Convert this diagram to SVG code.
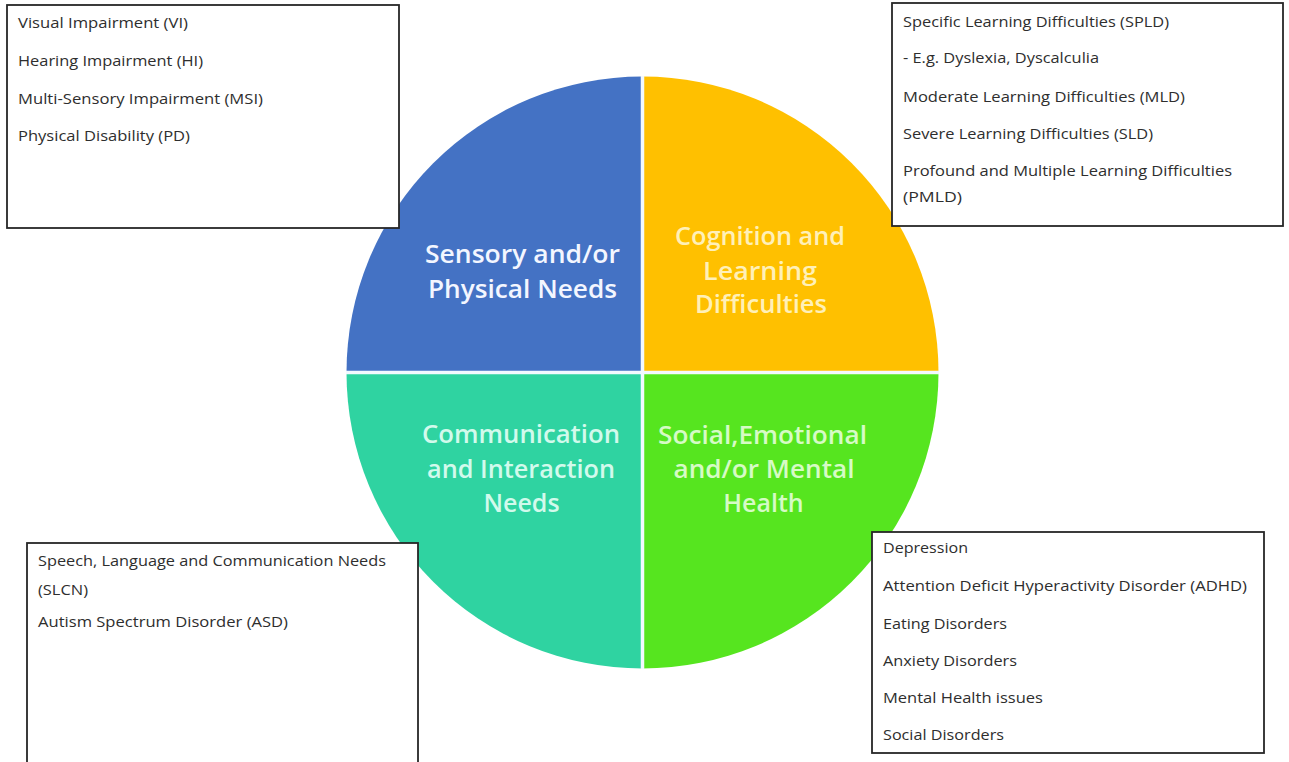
<svg xmlns="http://www.w3.org/2000/svg" width="1289" height="762" viewBox="0 0 1289 762">
  <style>
    .box { fill: #ffffff; stroke: #262626; stroke-width: 1.8; }
    .item { font-family: "Open Sans", "Liberation Sans", sans-serif; font-size: 14.5px; fill: #2e2e2e; }
    .lbl { font-family: "Open Sans", "Liberation Sans", sans-serif; font-size: 25px; font-weight: 600; text-anchor: middle; }
    .sep { stroke: #f2f9ff; stroke-width: 3.5; }
  </style>
  <rect width="1289" height="762" fill="#ffffff"/>

  <g id="wheel">
    <g id="q-sensory">
      <path d="M642.5,372.5 L346.5,372.5 A296,296 0 0 1 642.5,76.5 Z" fill="#4472C4"/>
      <text class="lbl" fill="#F3F6FF"><tspan x="522.5" y="263" textLength="195" lengthAdjust="spacingAndGlyphs">Sensory and/or</tspan><tspan x="522.5" y="298" textLength="189" lengthAdjust="spacingAndGlyphs">Physical Needs</tspan></text>
    </g>
    <g id="q-cognition">
      <path d="M642.5,372.5 L642.5,76.5 A296,296 0 0 1 938.5,372.5 Z" fill="#FFC000"/>
      <text class="lbl" fill="#FFF0B8"><tspan x="760" y="245" textLength="170" lengthAdjust="spacingAndGlyphs">Cognition and</tspan><tspan x="760" y="280" textLength="114" lengthAdjust="spacingAndGlyphs">Learning</tspan><tspan x="761" y="313" textLength="132" lengthAdjust="spacingAndGlyphs">Difficulties</tspan></text>
    </g>
    <g id="q-communication">
      <path d="M642.5,372.5 L642.5,668.5 A296,296 0 0 1 346.5,372.5 Z" fill="#2FD3A1"/>
      <text class="lbl" fill="#D2FAEC"><tspan x="521" y="443" textLength="198" lengthAdjust="spacingAndGlyphs">Communication</tspan><tspan x="521" y="478" textLength="188" lengthAdjust="spacingAndGlyphs">and Interaction</tspan><tspan x="521.5" y="512">Needs</tspan></text>
    </g>
    <g id="q-social">
      <path d="M642.5,372.5 L938.5,372.5 A296,296 0 0 1 642.5,668.5 Z" fill="#56E51F"/>
      <text class="lbl" fill="#D6FBC6"><tspan x="762.5" y="444" textLength="209" lengthAdjust="spacingAndGlyphs">Social,Emotional</tspan><tspan x="764" y="478" textLength="181" lengthAdjust="spacingAndGlyphs">and/or Mental</tspan><tspan x="763.5" y="512">Health</tspan></text>
    </g>
    <line class="sep" x1="642.5" y1="76" x2="642.5" y2="669"/>
    <line class="sep" x1="346" y1="372.5" x2="939" y2="372.5"/>
  </g>

  <g id="connectors"></g>

  <g id="box-sensory">
    <rect class="box" x="7" y="5" width="392" height="223"/>
    <text class="item" x="18" y="28" textLength="170" lengthAdjust="spacingAndGlyphs">Visual Impairment (VI)</text>
    <text class="item" x="18" y="66" textLength="185" lengthAdjust="spacingAndGlyphs">Hearing Impairment (HI)</text>
    <text class="item" x="18" y="104" textLength="245" lengthAdjust="spacingAndGlyphs">Multi-Sensory Impairment (MSI)</text>
    <text class="item" x="18" y="141" textLength="172" lengthAdjust="spacingAndGlyphs">Physical Disability (PD)</text>
  </g>

  <g id="box-cognition">
    <rect class="box" x="892" y="3" width="391" height="223"/>
    <text class="item" x="903" y="27" textLength="266" lengthAdjust="spacingAndGlyphs">Specific Learning Difficulties (SPLD)</text>
    <text class="item" x="903" y="63" textLength="196" lengthAdjust="spacingAndGlyphs">- E.g. Dyslexia, Dyscalculia</text>
    <text class="item" x="903" y="102" textLength="282" lengthAdjust="spacingAndGlyphs">Moderate Learning Difficulties (MLD)</text>
    <text class="item" x="903" y="139" textLength="250" lengthAdjust="spacingAndGlyphs">Severe Learning Difficulties (SLD)</text>
    <text class="item" x="903" y="176" textLength="329" lengthAdjust="spacingAndGlyphs">Profound and Multiple Learning Difficulties</text>
    <text class="item" x="903" y="202" textLength="59" lengthAdjust="spacingAndGlyphs">(PMLD)</text>
  </g>

  <g id="box-communication">
    <rect class="box" x="27" y="543" width="391" height="240"/>
    <text class="item" x="38" y="566" textLength="348" lengthAdjust="spacingAndGlyphs">Speech, Language and Communication Needs</text>
    <text class="item" x="38" y="595" textLength="50" lengthAdjust="spacingAndGlyphs">(SLCN)</text>
    <text class="item" x="38" y="627" textLength="250" lengthAdjust="spacingAndGlyphs">Autism Spectrum Disorder (ASD)</text>
  </g>

  <g id="box-social">
    <rect class="box" x="872" y="532" width="392" height="221"/>
    <text class="item" x="883" y="553" textLength="85" lengthAdjust="spacingAndGlyphs">Depression</text>
    <text class="item" x="883" y="591" textLength="364" lengthAdjust="spacingAndGlyphs">Attention Deficit Hyperactivity Disorder (ADHD)</text>
    <text class="item" x="883" y="629" textLength="124" lengthAdjust="spacingAndGlyphs">Eating Disorders</text>
    <text class="item" x="883" y="666" textLength="134" lengthAdjust="spacingAndGlyphs">Anxiety Disorders</text>
    <text class="item" x="883" y="703" textLength="160" lengthAdjust="spacingAndGlyphs">Mental Health issues</text>
    <text class="item" x="883" y="740" textLength="121" lengthAdjust="spacingAndGlyphs">Social Disorders</text>
  </g>
</svg>
